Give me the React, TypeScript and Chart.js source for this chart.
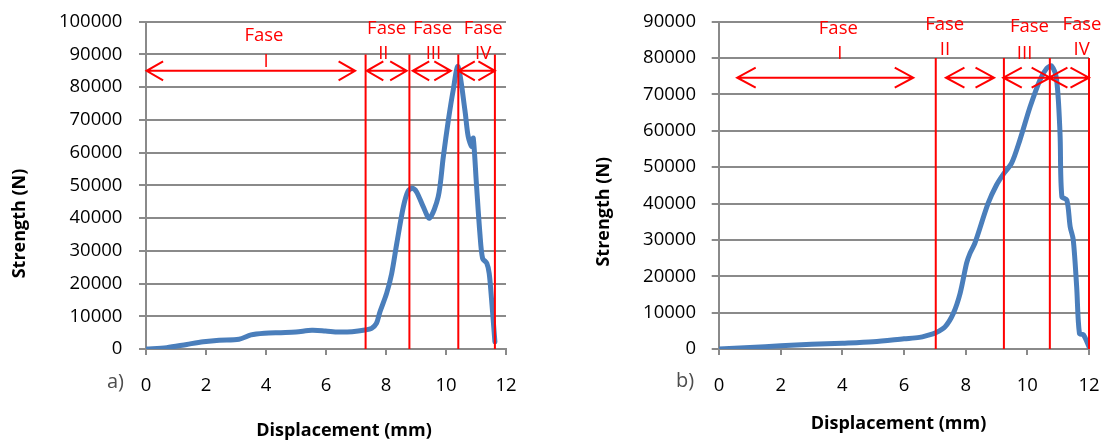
import React, { useEffect, useRef } from "react";
import { Chart, registerables } from "chart.js";

Chart.register(...registerables);

// ---------- Chart a) ----------
const dispA = [0, 0.69, 1.36, 1.91, 2.44, 3.1, 3.5, 3.95, 4.5, 5.0, 5.53, 5.98, 6.42, 6.87, 7.3, 7.52, 7.68, 7.8, 8.02, 8.19, 8.36, 8.58, 8.74, 8.88, 9.02, 9.24, 9.45, 9.74, 9.91, 10.08, 10.24, 10.4, 10.63, 10.74, 10.86, 10.91, 11.02, 11.13, 11.22, 11.36, 11.44, 11.52, 11.63];
const forceA = [0, 400, 1400, 2200, 2700, 3000, 4300, 4800, 5000, 5200, 5700, 5500, 5200, 5300, 5800, 6300, 7800, 11400, 17000, 23100, 32300, 43500, 48300, 49100, 48000, 43500, 40000, 46500, 58700, 70000, 79100, 86300, 73000, 64900, 61800, 64400, 49600, 35300, 27700, 26200, 23100, 15000, 2200];
const boundsA = [7.32, 8.78, 10.41, 11.63];
const boundTopA = 90000;
const arrowFromA = [0.02, 7.36, 8.89, 10.41];
const arrowToA = [6.97, 8.69, 10.16, 11.63];
const arrowLevelA = 85000;
const faseXA = [3.93, 8.02, 9.55, 11.24];
const faseYA = [95700, 98000, 98000, 98000];
const romanXA = [4.0, 7.91, 9.58, 11.24];
const romanYA = [87800, 90300, 90300, 90300];
const yMaxA = 100000;

// ---------- Chart b) ----------
const dispB = [0, 1, 2, 3, 4, 5, 6, 6.5, 6.74, 7.03, 7.33, 7.6, 7.82, 8.03, 8.14, 8.3, 8.73, 9.0, 9.24, 9.49, 9.76, 10.09, 10.41, 10.63, 10.79, 10.95, 11.06, 11.12, 11.28, 11.39, 11.49, 11.6, 11.69, 11.82, 12.0];
const forceB = [0, 400, 900, 1300, 1600, 2000, 2800, 3200, 3700, 4500, 6100, 9800, 15300, 23600, 26300, 29100, 40100, 45100, 48300, 51100, 57500, 66600, 74000, 77200, 77800, 74000, 59300, 41900, 41000, 33600, 30000, 17100, 4300, 3900, 600];
const boundsB = [7.03, 9.24, 10.73, 12.0];
const boundTopB = 80000;
const arrowFromB = [0.59, 7.36, 9.22, 10.7];
const arrowToB = [6.3, 8.92, 10.74, 12.0];
const arrowLevelB = 74600;
const faseXB = [3.87, 7.32, 10.07, 11.77];
const faseYB = [88200, 89100, 88600, 89100];
const romanXB = [3.92, 7.33, 9.91, 11.76];
const romanYB = [81300, 82200, 81300, 82200];
const yMaxB = 90000;

const phaseNames = ["I", "II", "III", "IV"];
const xMax = 12;
const xStep = 2;
const yStep = 10000;
const xTitle = "Displacement (mm)";
const yTitle = "Strength (N)";

const RED = "#ff0000";
const BLUE = "#4a7ebb";
const GRID = "#8a8a8a";
const FONT = "'Open Sans', 'Noto Sans', sans-serif";

type Cfg = {
  left: number;
  width: number;
  areaLeft: number;
  areaRight: number;
  yLabelPad: number;
  yTickLen: number;
  disp: number[];
  force: number[];
  bounds: number[];
  boundTop: number;
  arrowFrom: number[];
  arrowTo: number[];
  arrowLevel: number;
  faseX: number[];
  faseY: number[];
  romanX: number[];
  romanY: number[];
  yMax: number;
  tag: string;
  tagPos: [number, number];
  xTitlePos: [number, number];
  yTitlePos: [number, number];
  headL: number;
  headW: number;
};

const cfgA: Cfg = {
  left: 0,
  width: 552,
  areaLeft: 146,
  areaRight: 506,
  yLabelPad: 16.6,
  yTickLen: 7,
  disp: dispA,
  force: forceA,
  bounds: boundsA,
  boundTop: boundTopA,
  arrowFrom: arrowFromA,
  arrowTo: arrowToA,
  arrowLevel: arrowLevelA,
  faseX: faseXA,
  faseY: faseYA,
  romanX: romanXA,
  romanY: romanYA,
  yMax: yMaxA,
  tag: "a)",
  tagPos: [115.5, 382],
  xTitlePos: [344, 430.5],
  yTitlePos: [20, 223.5],
  headL: 16.5,
  headW: 9.5,
};

const cfgB: Cfg = {
  left: 552,
  width: 552,
  areaLeft: 167,
  areaRight: 537,
  yLabelPad: 15.7,
  yTickLen: 7.3,
  disp: dispB,
  force: forceB,
  bounds: boundsB,
  boundTop: boundTopB,
  arrowFrom: arrowFromB,
  arrowTo: arrowToB,
  arrowLevel: arrowLevelB,
  faseX: faseXB,
  faseY: faseYB,
  romanX: romanXB,
  romanY: romanYB,
  yMax: yMaxB,
  tag: "b)",
  tagPos: [133, 381.7],
  xTitlePos: [346.5, 423.5],
  yTitlePos: [51.4, 211.7],
  headL: 18.5,
  headW: 10,
};

const HEIGHT = 441;
const AREA_TOP = 21.7;
const AREA_BOTTOM = 349;

function makePlugin(cfg: Cfg) {
  return {
    id: "phases",
    afterDatasetsDraw(chart: any) {
      const ctx: CanvasRenderingContext2D = chart.ctx;
      const xs = chart.scales.x;
      const ys = chart.scales.y;
      ctx.save();
      // arrows
      ctx.strokeStyle = RED;
      ctx.lineWidth = 2;
      ctx.lineCap = "butt";
      ctx.lineJoin = "miter";
      cfg.arrowFrom.forEach((f, i) => {
        const x1 = xs.getPixelForValue(f);
        const x2 = xs.getPixelForValue(cfg.arrowTo[i]);
        const y = ys.getPixelForValue(cfg.arrowLevel);
        ctx.beginPath();
        ctx.moveTo(x1, y);
        ctx.lineTo(x2, y);
        ctx.moveTo(x1 + cfg.headL, y - cfg.headW);
        ctx.lineTo(x1, y);
        ctx.lineTo(x1 + cfg.headL, y + cfg.headW);
        ctx.moveTo(x2 - cfg.headL, y - cfg.headW);
        ctx.lineTo(x2, y);
        ctx.lineTo(x2 - cfg.headL, y + cfg.headW);
        ctx.stroke();
      });
      // phase labels
      ctx.fillStyle = RED;
      ctx.font = `18.5px ${FONT}`;
      ctx.textAlign = "center";
      ctx.textBaseline = "middle";
      phaseNames.forEach((name, i) => {
        ctx.fillText("Fase", xs.getPixelForValue(cfg.faseX[i]), ys.getPixelForValue(cfg.faseY[i]));
        ctx.fillText(name, xs.getPixelForValue(cfg.romanX[i]), ys.getPixelForValue(cfg.romanY[i]));
      });
      // axis titles
      ctx.fillStyle = "#000";
      ctx.font = `bold 18px ${FONT}`;
      ctx.fillText(xTitle, cfg.xTitlePos[0], cfg.xTitlePos[1]);
      ctx.save();
      ctx.translate(cfg.yTitlePos[0], cfg.yTitlePos[1]);
      ctx.rotate(-Math.PI / 2);
      ctx.fillText(yTitle, 0, 0);
      ctx.restore();
      // panel tag
      ctx.fillStyle = "#4d4d4d";
      ctx.font = `20px ${FONT}`;
      ctx.fillText(cfg.tag, cfg.tagPos[0], cfg.tagPos[1]);
      ctx.restore();
    },
  };
}

function PhaseChart({ cfg }: { cfg: Cfg }) {
  const ref = useRef<HTMLCanvasElement | null>(null);
  useEffect(() => {
    if (!ref.current) return;
    const boundSets = cfg.bounds.map((b) => ({
      type: "line" as const,
      data: [
        { x: b, y: 0 },
        { x: b, y: cfg.boundTop },
      ],
      borderColor: RED,
      borderWidth: 2,
      pointRadius: 0,
      tension: 0,
      clip: false,
      order: 1,
    }));
    const chart = new Chart(ref.current, {
      type: "line",
      data: {
        datasets: [
          {
            data: cfg.disp.map((d, i) => ({ x: d, y: cfg.force[i] })),
            borderColor: BLUE,
            borderWidth: 5,
            pointRadius: 0,
            tension: 0.3,
            borderCapStyle: "round",
            borderJoinStyle: "round",
            order: 2,
          } as any,
          ...boundSets,
        ],
      },
      options: {
        animation: false,
        responsive: false,
        devicePixelRatio: 1,
        events: [],
        layout: {
          padding: {
            left: 0,
            top: AREA_TOP,
            right: cfg.width - cfg.areaRight,
            bottom: 0,
          },
        },
        plugins: {
          legend: { display: false },
          tooltip: { enabled: false },
          title: { display: false },
        },
        scales: {
          x: {
            type: "linear",
            min: 0,
            max: xMax,
            afterFit: (s: any) => {
              s.height = HEIGHT - AREA_BOTTOM;
              s.paddingLeft = 0;
              s.paddingRight = 0;
              s.paddingTop = 0;
              s.paddingBottom = 0;
            },
            ticks: {
              stepSize: xStep,
              color: "#000",
              font: { family: FONT, size: 18.5 },
              padding: 20,
              maxRotation: 0,
            },
            grid: {
              drawOnChartArea: false,
              drawTicks: true,
              tickLength: 6,
              color: GRID,
              lineWidth: 2,
            },
            border: { display: true, color: GRID, width: 2 },
          },
          y: {
            type: "linear",
            min: 0,
            max: cfg.yMax,
            afterFit: (s: any) => {
              s.width = cfg.areaLeft;
              s.paddingLeft = 0;
              s.paddingRight = 0;
              s.paddingTop = 0;
              s.paddingBottom = 0;
            },
            ticks: {
              stepSize: yStep,
              color: "#000",
              font: { family: FONT, size: 18.5 },
              padding: cfg.yLabelPad,
              callback: (v: any) => String(v),
            },
            grid: {
              drawTicks: true,
              tickLength: cfg.yTickLen,
              color: GRID,
              lineWidth: 2,
            },
            border: { display: true, color: GRID, width: 2 },
          },
        },
      },
      plugins: [makePlugin(cfg)],
    });
    return () => chart.destroy();
  }, [cfg]);
  return (
    <canvas
      ref={ref}
      width={cfg.width}
      height={HEIGHT}
      style={{
        position: "absolute",
        left: cfg.left,
        top: 0,
        width: cfg.width,
        height: HEIGHT,
        display: "block",
      }}
    />
  );
}

export default function App() {
  return (
    <div
      style={{
        position: "absolute",
        left: 0,
        top: 0,
        width: 1104,
        height: HEIGHT,
        background: "#fff",
        overflow: "hidden",
      }}
    >
      <PhaseChart cfg={cfgA} />
      <PhaseChart cfg={cfgB} />
    </div>
  );
}
